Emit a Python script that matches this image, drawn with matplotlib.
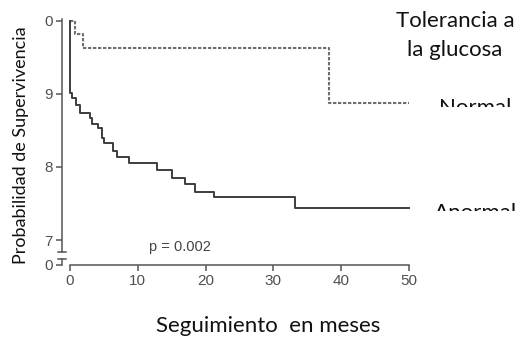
import matplotlib
matplotlib.use("Agg")
import matplotlib.pyplot as plt
from matplotlib.patches import Rectangle

# Curva de tolerancia normal (tiempo del evento, supervivencia despues del evento)
t_normal = [0.0, 0.74, 1.9, 38.2, 50.0]
s_normal = [1.0, 0.982, 0.963, 0.888, 0.888]

# Curva de tolerancia anormal
t_anormal = [0.0, 0.0, 0.34, 0.84, 1.47, 2.95, 3.29, 4.18, 4.67, 5.06, 6.39,
             6.89, 8.7, 12.8, 15.0, 16.96, 18.4, 21.2, 33.2, 50.0]
s_anormal = [1.0, 0.901, 0.895, 0.885, 0.874, 0.867, 0.859, 0.853, 0.840,
             0.833, 0.822, 0.814, 0.805, 0.796, 0.785, 0.777, 0.766, 0.759,
             0.744, 0.744]

x_ticks = [0, 10, 20, 30, 40, 50]
y_ticks = [0.666, 0.7, 0.8, 0.9, 1.0]
y_labels = ["0", "7", "8", "9", "0"]

W, H = 525, 341
fig = plt.figure(figsize=(W / 100, H / 100), dpi=100)

# ejes en pixeles: 0 meses -> x=70, 6.78 px/mes ; 1.0 -> y=21, 730 px por unidad
px_l, px_r, px_t, px_b = 55, 440, 14, 275
ax = fig.add_axes([px_l / W, 1 - px_b / H, (px_r - px_l) / W, (px_b - px_t) / H])
ax.set_xlim(-(70 - px_l) / 6.78, 50 + (px_r - 409) / 6.78)
ax.set_ylim(1 - (px_b - 21) / 730, 1 + (21 - px_t) / 730)
ax.patch.set_alpha(0)

gris = "#555555"
x_spine = -8 / 6.78
ax.spines[["top", "right"]].set_visible(False)
ax.spines["left"].set_position(("data", x_spine))
ax.spines["left"].set_bounds(0.684, 1.003)
ax.spines["bottom"].set_position(("data", 0.666))
ax.spines["bottom"].set_bounds(0, 50)
for sp in ("left", "bottom"):
    ax.spines[sp].set_color(gris)
    ax.spines[sp].set_linewidth(1.1)

ax.set_xticks(x_ticks)
ax.set_yticks(y_ticks)
ax.set_yticklabels(y_labels)
ax.tick_params(axis="both", direction="out", length=4.5, width=1.1, color=gris,
               labelcolor="#505050", labelsize=11, pad=2)
for lab in ax.get_xticklabels() + ax.get_yticklabels():
    lab.set_family("Liberation Sans")

# corte del eje y
cap = 0.55
ax.plot([x_spine - cap, x_spine + cap], [0.684, 0.684], color=gris, lw=1.1, clip_on=False)
ax.plot([x_spine, x_spine], [0.666, 0.674], color=gris, lw=1.1, clip_on=False)
ax.plot([x_spine - cap, x_spine + cap], [0.674, 0.674], color=gris, lw=1.1, clip_on=False)

# curvas
ax.step(t_normal, s_normal, where="post", color="#6e6e6e", lw=1.5,
        linestyle=(0, (1.6, 0.8)), clip_on=False)
ax.step(t_anormal, s_anormal, where="post", color="#3d3d3d", lw=1.4, clip_on=False)

ax.text(16.2, 0.690, "p = 0.002", fontsize=10.5, color="#444444",
        family="Liberation Sans", ha="center", va="center")

fig.text(21 / W, 1 - 145 / H, "Probabilidad de Supervivencia", rotation=90,
         ha="center", va="center", fontsize=13, family="Lato", color="#111111")
fig.text(268 / W, 1 - 326 / H, "Seguimiento  en meses", ha="center", va="center",
         fontsize=16, family="Lato", color="#111111")
fig.text(455 / W, 1 - 21 / H, "Tolerancia a", ha="center", va="center",
         fontsize=16, family="Lato", color="#111111")
fig.text(455 / W, 1 - 50 / H, "la glucosa", ha="center", va="center",
         fontsize=16, family="Lato", color="#111111")

# etiquetas recortadas por un recuadro blanco
fig.text(475 / W, 1 - 114 / H, "Normal", ha="center", va="baseline",
         fontsize=16, family="Lato", color="#111111")
fig.text(476 / W, 1 - 219 / H, "Anormal", ha="center", va="baseline",
         fontsize=16, family="Lato", color="#111111")
for y_cut in (107, 211):
    fig.patches.append(Rectangle((425 / W, 1 - (y_cut + 16) / H), 100 / W, 16 / H,
                                 transform=fig.transFigure, facecolor="white",
                                 edgecolor="none", zorder=5))

fig.savefig("out.png", dpi=100)
